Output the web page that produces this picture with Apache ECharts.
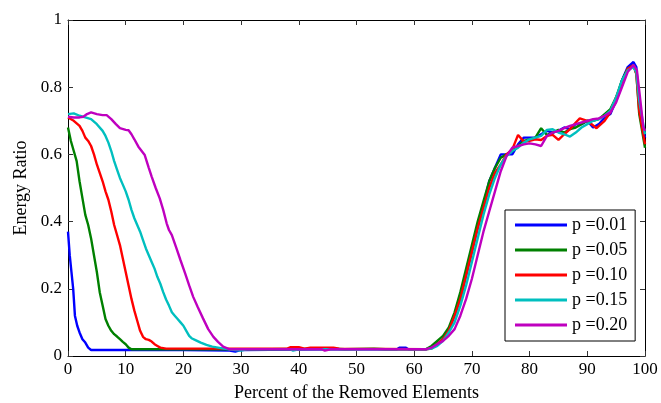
<!DOCTYPE html>
<html>
<head>
<meta charset="utf-8">
<script src="https://cdn.jsdelivr.net/npm/echarts@6/dist/echarts.min.js"></script>
<style>
  html, body { margin: 0; padding: 0; background: #fff; }
  #chart { width: 661px; height: 403px; }
</style>
</head>
<body>
<div id="chart"></div>
<script>
// Energy ratio vs. percent of removed elements, one curve per p value.
const seriesNames = ['p =0.01', 'p =0.05', 'p =0.10', 'p =0.15', 'p =0.20'];
const seriesColors = ['#0000ff', '#008000', '#ff0000', '#00bfbf', '#bf00bf'];
const xTicks = [0, 10, 20, 30, 40, 50, 60, 70, 80, 90, 100];
const yTicks = [0, 0.2, 0.4, 0.6, 0.8, 1];

// [percent removed, energy ratio]
const p001 = [
  [0,0.37],[0.3,0.30],[0.6,0.25],[0.9,0.20],[1.2,0.12],[1.6,0.09],[2,0.07],[2.5,0.05],[3,0.04],[3.5,0.025],[4,0.018],
  [12,0.018],[20,0.018],[28,0.016],[29,0.013],[30,0.018],[45,0.02],[57,0.02],[57.5,0.025],[58.5,0.025],[59,0.02],
  [62,0.02],[63,0.025],[64,0.035],[65,0.05],[66,0.08],[67,0.12],[68,0.17],[69,0.24],[70,0.31],[71,0.38],[72,0.45],
  [73,0.52],[74,0.56],[75,0.60],[76,0.60],[77,0.60],[78,0.63],[79,0.65],[80,0.65],[81,0.65],[82,0.66],[83,0.67],
  [84,0.665],[85,0.67],[86,0.68],[87,0.675],[88,0.69],[89,0.69],[90,0.70],[91,0.68],[92,0.69],[93,0.71],[94,0.72],
  [95,0.76],[96,0.82],[97,0.86],[98,0.875],[98.5,0.86],[99,0.75],[100,0.65]
];
const p005 = [
  [0,0.68],[0.5,0.64],[1,0.61],[1.5,0.58],[2,0.52],[2.5,0.47],[3,0.42],[3.5,0.39],[4,0.35],[4.5,0.30],[5,0.25],
  [5.5,0.19],[6,0.15],[6.5,0.11],[7,0.09],[7.5,0.075],[8,0.065],[8.5,0.058],[9,0.05],[9.5,0.042],[10,0.035],
  [10.5,0.025],[11,0.02],[22,0.02],[35,0.02],[46,0.022],[48,0.02],[53,0.022],[55,0.02],
  [62,0.02],[63,0.03],[64,0.045],[65,0.06],[66,0.085],[67,0.13],[68,0.19],[69,0.26],[70,0.33],[71,0.40],[72,0.46],
  [73,0.52],[74,0.56],[75,0.59],[76,0.60],[77,0.61],[78,0.625],[79,0.64],[80,0.645],[81,0.65],[82,0.678],[83,0.658],
  [84,0.665],[85,0.673],[86,0.665],[87,0.675],[88,0.68],[89,0.69],[90,0.70],[91,0.70],[92,0.705],[93,0.72],[94,0.735],
  [95,0.77],[96,0.82],[97,0.855],[98,0.865],[98.5,0.84],[99,0.72],[100,0.62]
];
const p010 = [
  [0,0.71],[1,0.70],[2,0.685],[2.5,0.67],[3,0.65],[3.5,0.64],[4,0.625],[4.5,0.60],[5,0.57],[5.5,0.545],[6,0.52],
  [6.5,0.49],[7,0.465],[7.5,0.43],[8,0.39],[8.5,0.36],[9,0.33],[9.5,0.29],[10,0.25],[10.5,0.21],[11,0.17],
  [11.5,0.135],[12,0.105],[12.5,0.075],[13,0.057],[13.5,0.05],[14,0.048],[14.5,0.043],[15,0.035],[15.5,0.03],
  [16,0.025],[17,0.022],[30,0.022],[38,0.022],[38.5,0.026],[40,0.026],[41,0.022],[42,0.025],[46,0.025],[47,0.022],
  [62,0.02],[63,0.022],[64,0.035],[65,0.05],[66,0.075],[67,0.12],[68,0.17],[69,0.24],[70,0.31],[71,0.38],[72,0.44],
  [73,0.50],[74,0.545],[75,0.57],[76,0.60],[77,0.615],[78,0.658],[79,0.638],[80,0.64],[81,0.645],[82,0.643],
  [83,0.655],[84,0.658],[85,0.643],[86,0.66],[87,0.675],[88,0.695],[88.7,0.707],[90,0.70],[91.6,0.678],[93,0.70],
  [94,0.725],[95,0.77],[96,0.81],[97,0.855],[98,0.865],[98.5,0.84],[99,0.73],[100,0.63]
];
const p015 = [
  [0,0.72],[1,0.722],[2,0.715],[3,0.71],[4,0.705],[5,0.69],[6,0.67],[6.5,0.655],[7,0.635],[7.5,0.61],[8,0.58],
  [8.5,0.555],[9,0.53],[9.5,0.51],[10,0.49],[10.5,0.465],[11,0.435],[11.5,0.41],[12,0.39],[12.5,0.37],[13,0.345],
  [13.5,0.32],[14,0.30],[14.5,0.28],[15,0.26],[15.5,0.235],[16,0.215],[16.5,0.19],[17,0.168],[17.5,0.15],[18,0.13],
  [18.5,0.12],[19,0.11],[19.5,0.10],[20,0.09],[20.5,0.075],[21,0.06],[21.5,0.052],[22,0.048],[23,0.04],[24,0.033],
  [25,0.028],[26,0.025],[27,0.022],[29,0.018],[30,0.016],[31,0.02],[38.5,0.02],[39,0.016],[40,0.02],[55,0.02],
  [62,0.02],[63,0.022],[64,0.03],[65,0.045],[66,0.07],[67,0.10],[68,0.15],[69,0.21],[70,0.28],[71,0.35],[72,0.42],
  [73,0.48],[74,0.53],[75,0.57],[76,0.595],[77,0.61],[78,0.62],[79,0.635],[80,0.645],[81,0.65],[82,0.655],[83,0.673],
  [84,0.675],[85,0.665],[86,0.66],[87,0.653],[88,0.665],[89,0.68],[90,0.69],[91,0.70],[92,0.705],[93,0.715],
  [94,0.73],[95,0.77],[96,0.82],[97,0.85],[98,0.86],[98.5,0.845],[99,0.76],[100,0.66]
];
const p020 = [
  [0,0.712],[1,0.71],[2,0.71],[2.65,0.712],[3.3,0.72],[4,0.725],[5,0.72],[6,0.717],[6.7,0.717],[7.5,0.705],
  [8.3,0.69],[9,0.678],[10,0.673],[10.5,0.672],[11,0.66],[11.5,0.645],[12.2,0.623],[13.3,0.598],[14,0.56],
  [14.5,0.534],[15.2,0.50],[15.9,0.469],[16.5,0.435],[17.1,0.395],[17.5,0.375],[18,0.36],[18.8,0.32],[19.5,0.285],
  [20.3,0.246],[21,0.21],[21.7,0.176],[22.5,0.145],[23.4,0.112],[24.3,0.08],[25.2,0.057],[26,0.042],[26.9,0.028],
  [28,0.02],[40,0.02],[44,0.02],[44.5,0.016],[45.5,0.02],[55,0.02],
  [62,0.02],[63,0.025],[64,0.035],[65,0.045],[66,0.06],[67,0.08],[68,0.12],[69,0.17],[70,0.23],[71,0.30],[72,0.37],
  [73,0.43],[74,0.49],[75,0.55],[76,0.595],[77,0.62],[78,0.625],[79,0.63],[80,0.633],[81,0.63],[82,0.625],[83,0.655],
  [84,0.665],[85,0.67],[86,0.678],[87,0.685],[88,0.69],[89,0.695],[90,0.70],[91,0.705],[92,0.707],[93,0.715],
  [94,0.725],[95,0.755],[96,0.80],[97,0.845],[98,0.866],[98.6,0.85],[99.2,0.76],[99.7,0.682],[100,0.67]
];
const seriesData = [p001, p005, p010, p015, p020];

const FONT = '"Liberation Serif", "DejaVu Serif", serif';

const chart = echarts.init(document.getElementById('chart'), null, { renderer: 'canvas' });

const xBase = {
  type: 'value',
  min: xTicks[0],
  max: xTicks[xTicks.length - 1],
  interval: xTicks[1] - xTicks[0],
  splitLine: { show: false },
  axisLine: { show: true, onZero: false, lineStyle: { color: '#000', width: 1 } },
  axisTick: { show: true, inside: true, length: 5, lineStyle: { color: '#333' } }
};
const yBase = {
  type: 'value',
  min: yTicks[0],
  max: yTicks[yTicks.length - 1],
  interval: yTicks[1] - yTicks[0],
  splitLine: { show: false },
  axisLine: { show: true, onZero: false, lineStyle: { color: '#000', width: 1 } },
  axisTick: { show: true, inside: true, length: 5, lineStyle: { color: '#333' } }
};

chart.setOption({
  backgroundColor: '#fff',
  animation: false,
  textStyle: { fontFamily: FONT },
  grid: { left: 68, right: 16, top: 20, bottom: 47, containLabel: false, outerBoundsMode: 'none' },
  legend: {
    data: seriesNames.map((n) => ({ name: n, icon: 'rect' })),
    orient: 'vertical',
    left: 505,
    top: 210,
    itemWidth: 52,
    itemHeight: 3,
    itemGap: 7,
    padding: [6, 8, 7, 10],
    backgroundColor: '#fff',
    borderColor: '#000',
    borderWidth: 1,
    textStyle: { fontFamily: FONT, fontSize: 18, color: '#000' }
  },
  xAxis: [
    Object.assign({}, xBase, {
      position: 'bottom',
      name: 'Percent of the Removed Elements',
      nameLocation: 'middle',
      nameGap: 28,
      nameTextStyle: { fontFamily: FONT, fontSize: 18, color: '#000' },
      axisLabel: { show: true, margin: 5, fontFamily: FONT, fontSize: 17, color: '#000' }
    }),
    Object.assign({}, xBase, { position: 'top', axisLabel: { show: false } })
  ],
  yAxis: [
    Object.assign({}, yBase, {
      position: 'left',
      name: 'Energy Ratio',
      nameLocation: 'middle',
      nameGap: 36,
      nameTextStyle: { fontFamily: FONT, fontSize: 18, color: '#000' },
      axisLabel: { show: true, margin: 6, fontFamily: FONT, fontSize: 17, color: '#000' }
    }),
    Object.assign({}, yBase, { position: 'right', axisLabel: { show: false } })
  ],
  series: seriesNames.map((name, i) => ({
    name: name,
    type: 'line',
    xAxisIndex: 0,
    yAxisIndex: 0,
    data: seriesData[i],
    showSymbol: false,
    smooth: false,
    color: seriesColors[i],
    lineStyle: { color: seriesColors[i], width: 2.4 }
  }))
});
</script>
</body>
</html>
